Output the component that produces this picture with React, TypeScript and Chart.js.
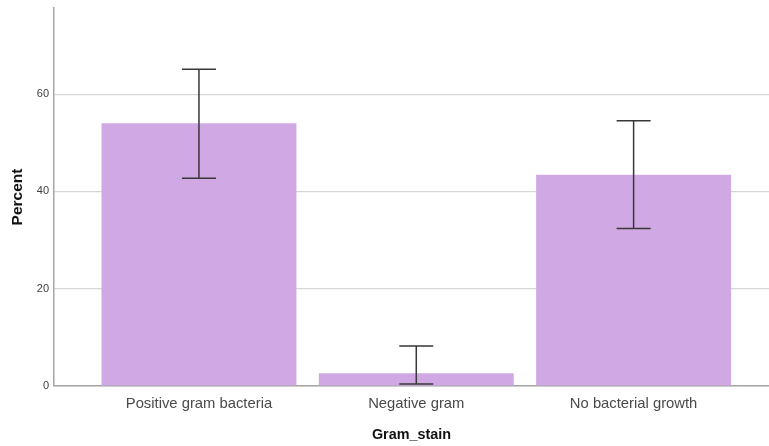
import React, { useEffect, useRef } from "react";
import { Chart, registerables } from "chart.js";

Chart.register(...registerables);

// Gram stain result categories and their percentages
const categories = ["Positive gram bacteria", "Negative gram", "No bacterial growth"];
const percents = [54.0, 2.6, 43.4];
// 95% confidence interval bounds for each category
const ciLower = [42.7, 0.4, 32.4];
const ciUpper = [65.1, 8.2, 54.5];
const yTicks = [0, 20, 40, 60];

const BAR_COLOR = "#d0a9e4";
const WHISKER_COLOR = "#383838";
const FONT = "'Liberation Sans', Arial, sans-serif";

// Draws the confidence-interval whiskers on top of each bar
const errorBarPlugin = {
  id: "errorBars",
  afterDatasetsDraw(chart: any) {
    const { ctx, scales } = chart;
    const xs = scales.x;
    const ys = scales.y;
    ctx.save();
    ctx.strokeStyle = WHISKER_COLOR;
    ctx.lineWidth = 1.5;
    categories.forEach((_, i) => {
      const cx = xs.getPixelForValue(i + 1);
      const yHi = ys.getPixelForValue(ciUpper[i]);
      const yLo = ys.getPixelForValue(ciLower[i]);
      const half = 17;
      ctx.beginPath();
      ctx.moveTo(cx, yHi);
      ctx.lineTo(cx, yLo);
      ctx.moveTo(cx - half, yHi);
      ctx.lineTo(cx + half, yHi);
      ctx.moveTo(cx - half, yLo);
      ctx.lineTo(cx + half, yLo);
      ctx.stroke();
    });
    ctx.restore();
  },
};

export default function App() {
  const canvasRef = useRef<HTMLCanvasElement | null>(null);

  useEffect(() => {
    if (!canvasRef.current) return;
    const chart = new Chart(canvasRef.current, {
      type: "bar",
      data: {
        datasets: [
          {
            label: "Percent",
            data: categories.map((_, i) => ({ x: i + 1, y: percents[i] })),
            backgroundColor: BAR_COLOR,
            borderWidth: 0,
            categoryPercentage: 1,
            barPercentage: 0.897,
          },
        ],
      },
      options: {
        animation: false,
        responsive: true,
        maintainAspectRatio: false,
        layout: { padding: { top: 8, right: 0, bottom: 0, left: 0 } },
        plugins: {
          legend: { display: false },
          tooltip: { enabled: false },
        },
        scales: {
          x: {
            type: "linear",
            offset: false,
            min: 0.333,
            max: 3.623,
            afterBuildTicks: (scale: any) => {
              scale.ticks = categories.map((_, i) => ({ value: i + 1 }));
            },
            afterFit: (scale: any) => {
              scale.height = 60;
              scale.paddingLeft = 0;
              scale.paddingRight = 0;
            },
            grid: { display: false, drawTicks: false, offset: false },
            border: { display: true, color: "#a6a6a6", width: 1.5 },
            ticks: {
              padding: 9,
              color: "#4a4a4a",
              font: { family: FONT, size: 14.8 },
              maxRotation: 0,
              autoSkip: false,
              callback: (v: any) => categories[Math.round(Number(v)) - 1] ?? "",
            },
            title: {
              display: true,
              text: "Gram_stain",
              color: "#111111",
              font: { family: FONT, size: 14.4, weight: "bold" },
              padding: { top: 4, bottom: 2.5 },
            },
          },
          y: {
            type: "linear",
            min: 0,
            max: 77.7,
            afterBuildTicks: (scale: any) => {
              scale.ticks = yTicks.map((v) => ({ value: v }));
            },
            afterFit: (scale: any) => {
              scale.width = 54;
              scale.paddingTop = 0;
              scale.paddingBottom = 0;
            },
            grid: { color: "#d6d6d6", lineWidth: 1.2, drawTicks: false },
            border: { display: true, color: "#a6a6a6", width: 1.5 },
            ticks: {
              padding: 5,
              color: "#404040",
              font: { family: FONT, size: 11 },
              includeBounds: false,
            },
            title: {
              display: true,
              text: "Percent",
              color: "#111111",
              font: { family: FONT, size: 15.5, weight: "bold" },
              padding: { top: 8, bottom: 4 },
            },
          },
        },
      },
      plugins: [errorBarPlugin],
    } as any);
    return () => chart.destroy();
  }, []);

  return (
    <div
      style={{
        position: "fixed",
        left: 0,
        top: 0,
        width: 769,
        height: 446,
        background: "#ffffff",
      }}
    >
      <canvas ref={canvasRef} />
    </div>
  );
}
